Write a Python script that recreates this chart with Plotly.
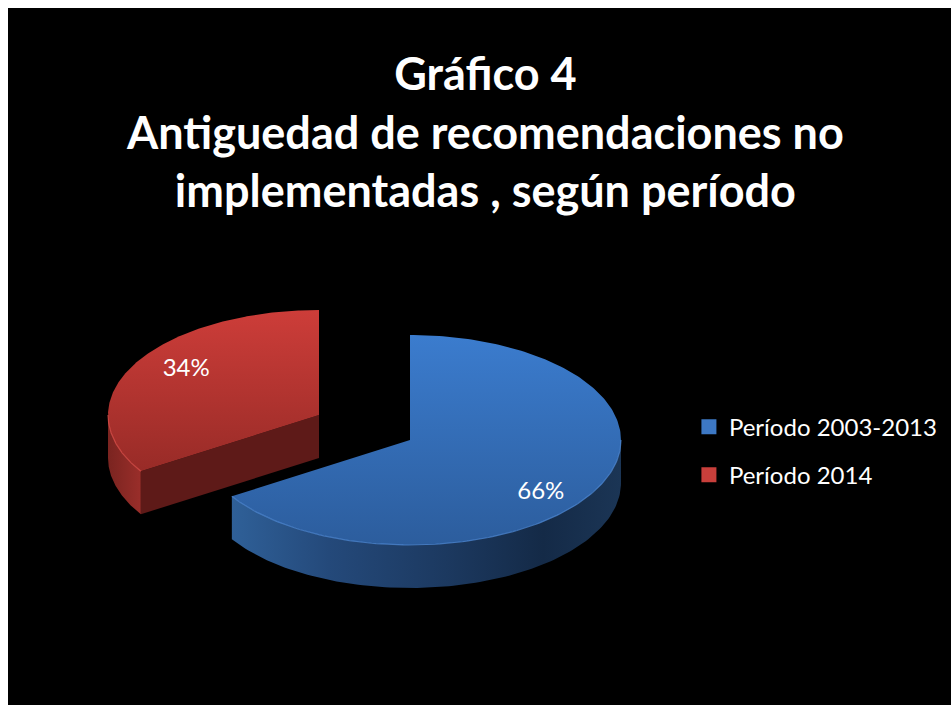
import numpy as np
import plotly.graph_objects as go

# ---- data ----
categories = ["Período 2003-2013", "Período 2014"]
shares = [66, 34]
title_lines = ["Gráfico 4", "Antiguedad de recomendaciones no", "implementadas , según período"]

# ---- styling / geometry of the tilted pie (page pixels) ----
W, H = 951, 705
PAGE_OFFSET = 8  # the page's own margin pushes the figure right and down
RX, RY, DEPTH = 211, 105, 43
CENTERS = [(410, 440), (319, 415)]
# colours are listed bottom -> top because the y axis is reversed
TOP_COLORS = [["#2c5d9d", "#3b7cce"], ["#982b27", "#cd3d39"]]
WALL_SCALES = [
    [[0, "#2f6098"], [0.25, "#24497a"], [0.55, "#1c3960"], [0.8, "#142a47"], [1, "#1b3555"]],
    [[0, "#7a2420"], [1, "#9a2e2a"]],
]
CUT_COLOR = "#5e1a18"
RIMS = ["rgba(79,138,214,0.75)", "rgba(224,82,76,0.75)"]
MARKER_COLORS = ["#3d78c4", "#c83f3b"]
FONT = "Lato"
# page background: white 8px strips at the top and left, black elsewhere
PAGE_CSS = ("document.documentElement.style.background="
            "'linear-gradient(white 8px, transparent 8px), linear-gradient(to right, white 8px, black 8px)';")


def point(c, theta, r=1.0, dz=0.0):
    return (c[0] + RX * r * np.sin(theta), c[1] - RY * r * np.cos(theta) + dz)


fig = go.Figure()
fracs = np.array(shares, dtype=float) / sum(shares)
starts = 2 * np.pi * np.concatenate([[0], np.cumsum(fracs)[:-1]])
ends = starts + 2 * np.pi * fracs

for i, cat in enumerate(categories):
    c = CENTERS[i]
    t0, t1 = starts[i], ends[i]
    # outer wall: the part of the rim that faces the viewer (pi/2 .. 3pi/2)
    w0, w1 = max(t0, np.pi / 2), min(t1, 3 * np.pi / 2)
    if w1 > w0:
        th = np.linspace(w0, w1, 120)
        xa, ya = point(c, th)
        xb, yb = point(c, th[::-1], dz=DEPTH)
        fig.add_trace(go.Scatter(
            x=np.concatenate([xa, xb]), y=np.concatenate([ya, yb]), mode="lines",
            line=dict(width=0), fill="toself",
            fillgradient=dict(type="horizontal", colorscale=WALL_SCALES[i]),
            hoverinfo="skip", showlegend=False))
    # visible radial cut face of the slice that ends at the top
    if t1 >= 2 * np.pi - 1e-6:
        ex, ey = point(c, t0)
        fig.add_trace(go.Scatter(
            x=[ex, c[0], c[0], ex, ex], y=[ey, c[1], c[1] + DEPTH, ey + DEPTH, ey],
            mode="lines", line=dict(width=0), fill="toself", fillcolor=CUT_COLOR,
            hoverinfo="skip", showlegend=False))
    # top face
    th = np.linspace(t0, t1, 240)
    xt, yt = point(c, th)
    fig.add_trace(go.Scatter(
        x=np.concatenate([[c[0]], xt, [c[0]]]), y=np.concatenate([[c[1]], yt, [c[1]]]),
        mode="lines", line=dict(width=0), fill="toself",
        fillgradient=dict(type="vertical", colorscale=[[0, TOP_COLORS[i][0]], [1, TOP_COLORS[i][1]]]),
        hoverinfo="skip", showlegend=False))
    # bevel highlight along the front rim
    if w1 > w0:
        th = np.linspace(w0, w1, 120)
        xr, yr = point(c, th)
        fig.add_trace(go.Scatter(x=xr, y=yr, mode="lines", line=dict(width=1.2, color=RIMS[i]),
                                 hoverinfo="skip", showlegend=False))
    # percentage label
    mid = (t0 + t1) / 2 + np.radians(8)
    lx, ly = point(c, mid, r=0.78)
    fig.add_trace(go.Scatter(x=[lx - 1], y=[ly + 4], mode="text", text=[f"{shares[i]}%"],
                             textposition="middle center",
                             textfont=dict(family=FONT, size=24, color="white"),
                             hoverinfo="skip", showlegend=False))
    # legend entry
    fig.add_trace(go.Scatter(x=[None], y=[None], mode="markers", name=cat, legendgroup=cat,
                             marker=dict(symbol="square", size=15, color=MARKER_COLORS[i])))

fig.update_layout(
    width=W, height=H, autosize=False,
    margin=dict(l=0, r=0, t=0, b=0),
    paper_bgcolor="black", plot_bgcolor="black",
    xaxis=dict(range=[PAGE_OFFSET, W + PAGE_OFFSET], visible=False, fixedrange=True),
    yaxis=dict(range=[H + PAGE_OFFSET, PAGE_OFFSET], visible=False, fixedrange=True),
    title=dict(text="<br>".join(title_lines), x=0.502, xanchor="center", y=0.883, yanchor="top",
               font=dict(family=FONT, size=45, color="white", weight="bold")),
    legend=dict(x=0.716, y=0.4375, xanchor="left", yanchor="top", bgcolor="rgba(0,0,0,0)",
                font=dict(family=FONT, size=24, color="white"), tracegroupgap=14,
                itemclick=False, itemdoubleclick=False),
)
fig.write_html("out.html", config=dict(displayModeBar=False), default_width=f"{W}px",
               default_height=f"{H}px", post_script=PAGE_CSS)
